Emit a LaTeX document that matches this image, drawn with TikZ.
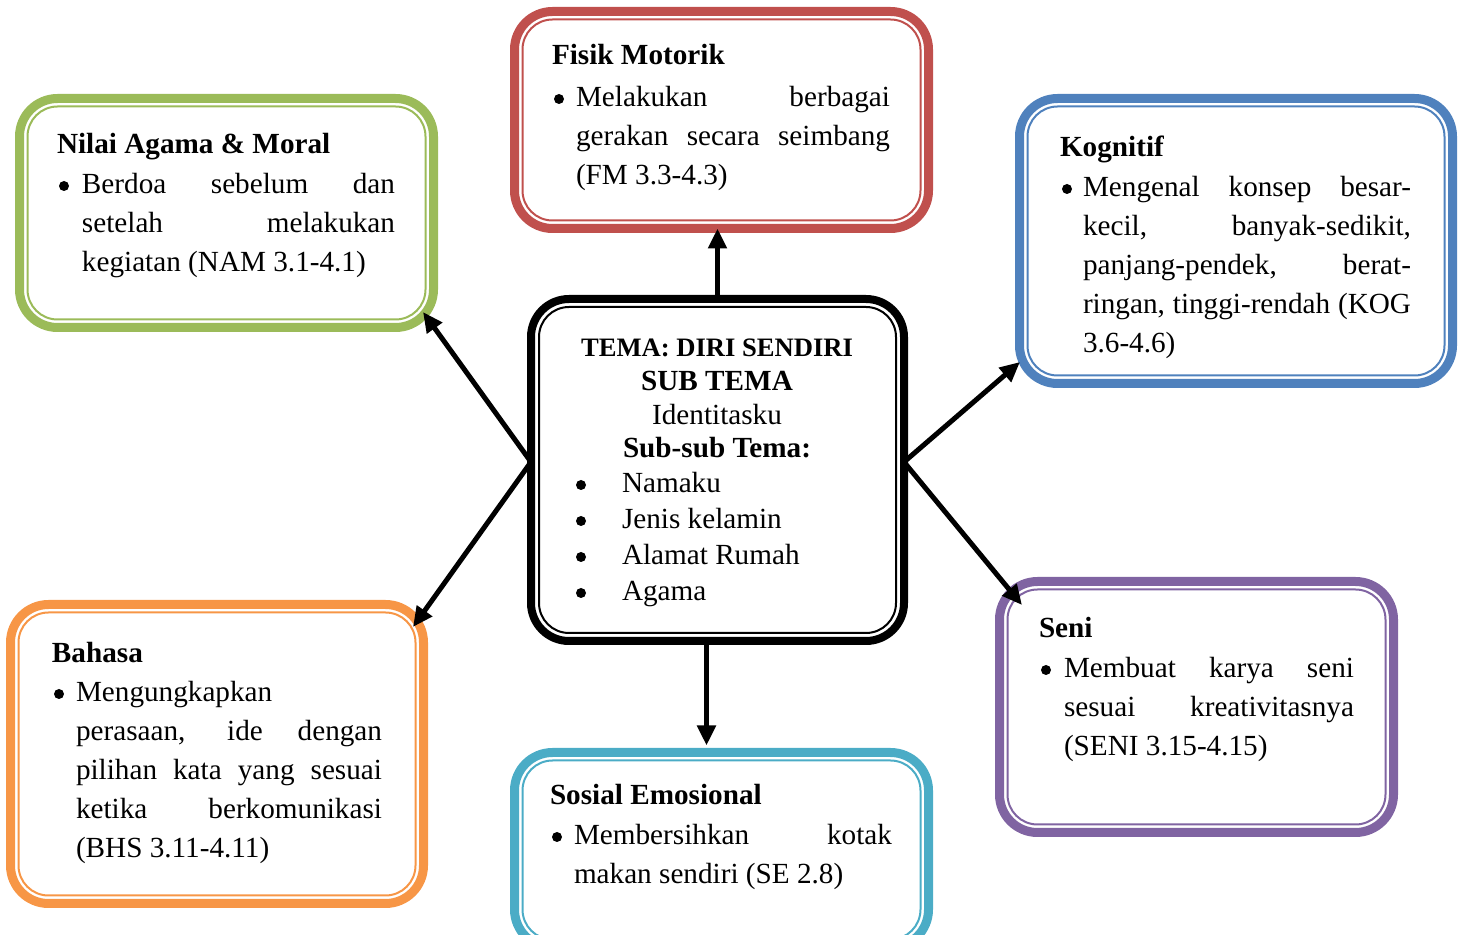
\documentclass[tikz,border=0pt]{standalone}
\usepackage{fontspec}
\setmainfont{Liberation Serif}
\usetikzlibrary{arrows.meta,calc}
\definecolor{cgreen}{HTML}{9BBB59}
\definecolor{cred}{HTML}{C0504D}
\definecolor{cblue}{HTML}{4F81BD}
\definecolor{corange}{HTML}{F79646}
\definecolor{cteal}{HTML}{4BACC6}
\definecolor{cpurple}{HTML}{8064A2}
\newcommand\jw[2]{\makebox[#1][s]{#2}}
% #1 name, #2 colour, #3 x1, #4 y1, #5 x2, #6 y2 (outer edges, px), #7 outer line width (px)
\newcommand\dbox[7]{%
  \node[outerbox, draw=#2, line width={#7*0.5pt},
        minimum width={(#5-#3-#7)*0.5pt}, minimum height={(#6-#4-#7)*0.5pt}]
        (#1) at ({(#3+#5)/2},{(#4+#6)/2}) {};
  \draw[innerline, #2] ($(#1.north west)+(8,8)$) rectangle ($(#1.south east)+(-8,-8)$);
}
\tikzset{
  outerbox/.style={rectangle, rounded corners=19pt, inner sep=0pt, outer sep=0pt},
  innerline/.style={line width=1pt, rounded corners=15pt},
  body/.style={anchor=base west, inner sep=0pt, outer sep=0pt, font=\fontsize{14.6pt}{19.5pt}\selectfont},
  ttl/.style={body, font=\fontsize{14.6pt}{19.5pt}\selectfont\bfseries},
  ctr/.style={anchor=base, inner sep=0pt, outer sep=0pt, font=\fontsize{14.6pt}{19.5pt}\selectfont},
  dot/.style={circle, fill=black, inner sep=0pt, outer sep=0pt, minimum size=5pt},
  conn/.style={line width=2.5pt, -{Triangle[length=10pt,width=9pt]}},
}
\begin{document}
\begin{tikzpicture}[x=0.5pt,y=-0.5pt]
\useasboundingbox (0,0) rectangle (1464,935);
\clip (0,0) rectangle (1464,935);

% boxes
\dbox{nam}{cgreen}{15}{94}{438}{332}{9}
\dbox{fm}{cred}{510}{7}{933}{233}{9}
\dbox{kog}{cblue}{1015}{94}{1457}{388}{9}
\dbox{bhs}{corange}{6}{600}{428}{908}{9}
\dbox{se}{cteal}{510}{748}{933}{952}{9}
\dbox{seni}{cpurple}{995}{577}{1398}{837}{9}
\dbox{c}{black}{527}{295}{908}{645}{8}

% Nilai Agama & Moral
\node[ttl] (gT) at (57,154) {Nilai Agama \& Moral};
\node[dot] (gB) at (64,186) {};
\node[body] (g1) at (82,194) {\jw{156.5pt}{Berdoa sebelum dan}};
\node[body] (g2) at (82,233) {\jw{156.5pt}{setelah melakukan}};
\node[body] (g3) at (82,272) {kegiatan (NAM 3.1-4.1)};

% Fisik Motorik
\node[ttl] (rT) at (552,65) {Fisik Motorik};
\node[dot] (rB) at (559,99) {};
\node[body] (r1) at (576,107) {\jw{157pt}{Melakukan berbagai}};
\node[body] (r2) at (576,146) {\jw{157pt}{gerakan secara seimbang}};
\node[body] (r3) at (576,185) {(FM 3.3-4.3)};

% Kognitif
\node[ttl] (bT) at (1060,157) {Kognitif};
\node[dot] (bB) at (1067,189) {};
\node[body] (b1) at (1083,197) {\jw{164pt}{Mengenal konsep besar-}};
\node[body] (b2) at (1083,236) {\jw{164pt}{kecil, banyak-sedikit,}};
\node[body] (b3) at (1083,275) {\jw{164pt}{panjang-pendek, berat-}};
\node[body] (b4) at (1083,314) {\jw{164pt}{ringan, tinggi-rendah (KOG}};
\node[body] (b5) at (1083,353) {3.6-4.6)};

% Bahasa
\node[ttl] (oT) at (52,663) {Bahasa};
\node[dot] (oB) at (59,694) {};
\node[body] (o1) at (76,702) {Mengungkapkan};
\node[body] (o2) at (76,741) {\jw{153pt}{perasaan, ide dengan}};
\node[body] (o3) at (76,780) {\jw{153pt}{pilihan kata yang sesuai}};
\node[body] (o4) at (76,819) {\jw{153pt}{ketika berkomunikasi}};
\node[body] (o5) at (76,858) {(BHS 3.11-4.11)};

% Sosial Emosional
\node[ttl] (tT) at (550,805) {Sosial Emosional};
\node[dot] (tB) at (557,837) {};
\node[body] (t1) at (574,845) {\jw{159pt}{Membersihkan kotak}};
\node[body] (t2) at (574,884) {makan sendiri (SE 2.8)};

% Seni
\node[ttl] (pT) at (1039,638) {Seni};
\node[dot] (pB) at (1046,670) {};
\node[body] (p1) at (1064,678) {\jw{145pt}{Membuat karya seni}};
\node[body] (p2) at (1064,717) {\jw{145pt}{sesuai kreativitasnya}};
\node[body] (p3) at (1064,756) {(SENI 3.15-4.15)};

% centre
\node[ctr, font=\fontsize{13.3pt}{18pt}\selectfont\bfseries] (c1) at (717,357) {TEMA: DIRI SENDIRI};
\node[ctr, font=\fontsize{14.6pt}{19.5pt}\selectfont\bfseries] (c2) at (717,391) {SUB TEMA};
\node[ctr] (c3) at (717,425) {Identitasku};
\node[ctr, font=\fontsize{14.6pt}{19.5pt}\selectfont\bfseries] (c4) at (717,458) {Sub-sub Tema:};
\node[dot] (l1b) at (581,485) {};
\node[body] (l1) at (622,493) {Namaku};
\node[dot] (l2b) at (581,521) {};
\node[body] (l2) at (622,529) {Jenis kelamin};
\node[dot] (l3b) at (581,557) {};
\node[body] (l3) at (622,565) {Alamat Rumah};
\node[dot] (l4b) at (581,593) {};
\node[body] (l4) at (622,601) {Agama};

% connectors
\coordinate (cl) at ($(c.west)+(0,-8)$);
\coordinate (cr) at ($(c.east)+(0,-8)$);
\coordinate (ct) at (c.north);
\coordinate (cb) at ($(c.south)+(-11,0)$);
\draw[conn] (ct) -- (ct |- fm.south);
\draw[conn] (cb) -- ($(cb |- se.north)+(0,-7)$);
\draw[conn] (cl) -- ($(nam.south east)+(-10.5,-15.5)$);
\draw[conn] (cl) -- ($(bhs.north east)+(-10.5,22.5)$);
\draw[conn] (cr) -- ($(kog.south west)+(0.5,-21.5)$);
\draw[conn] (cr) -- ($(seni.north west)+(22.5,23.5)$);
\end{tikzpicture}
\end{document}
